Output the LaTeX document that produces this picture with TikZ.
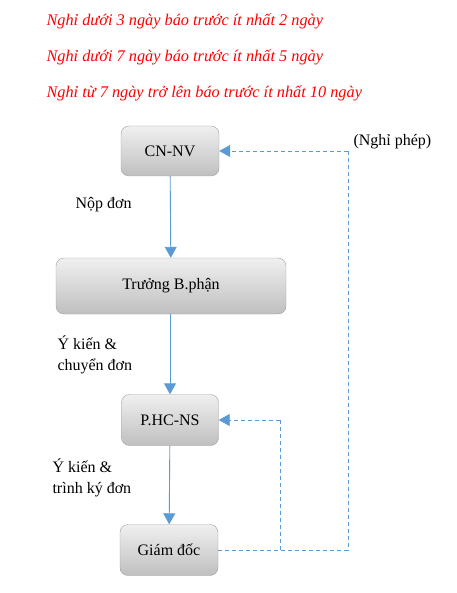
\documentclass[tikz,border=0pt]{standalone}
\usepackage{fontspec}
\setmainfont{Liberation Serif}
\usetikzlibrary{arrows.meta}
\definecolor{lineblue}{HTML}{5B9BD5}
\definecolor{boxedge}{HTML}{A0A0A0}
\tikzset{
  unit/.style = {draw = boxedge, rounded corners = 8pt, top color = gray!12, bottom color = gray!50, font = \fontsize{16}{19}\selectfont, inner sep = 0pt},
  flow/.style = {draw = lineblue, line width = 0.9pt, -{Triangle[length=11pt,width=12pt]}},
  back/.style = {draw = lineblue, line width = 0.9pt, dash pattern = on 4pt off 3pt},
  note/.style = {text = red, font = \fontsize{16.3}{19}\selectfont\itshape, anchor = west},
  say/.style = {font = \fontsize{16}{21}\selectfont, align = left, anchor = west}
}
\begin{document}
\begin{tikzpicture}[x = 1pt, y = -1pt]
\useasboundingbox (0,0) rectangle (456,593);
% ghi chu thoi han
\node[note] (n1) at (43,21){Nghỉ dưới 3 ngày báo trước ít nhất 2 ngày};
\node[note] (n2) at (43,57){Nghỉ dưới 7 ngày báo trước ít nhất 5 ngày};
\node[note] (n3) at (43,93){Nghỉ từ 7 ngày trở lên báo trước ít nhất 10 ngày};
% cac bo phan
\node[unit, minimum width = 98pt, minimum height = 50pt] (cnnv) at (170,151){CN-NV};
\node[unit, minimum width = 230pt, minimum height = 56pt] (truong) at (171,286){Trưởng B.phận};
\node[unit, minimum width = 97pt, minimum height = 51pt] (phc) at (170,420){P.HC-NS};
\node[unit, minimum width = 98pt, minimum height = 51pt] (gd) at (169,550){Giám đốc};
% luong don
\draw[flow] (cnnv) -- (truong);
\draw[flow] (truong.south -| phc) -- (phc);
\draw[flow] (phc) -- (gd);
\node[say] (l1) at (72,205){Nộp đơn};
\node[say] (l2) at (54,355){Ý kiến \&\\chuyển đơn};
\node[say] (l3) at (49,478){Ý kiến \&\\trình ký đơn};
% phan hoi
\coordinate (k1) at (280,550);
\coordinate (k2) at (348,550);
\draw[back] (gd.east) -- (k2) -- (k2 |- cnnv);
\draw[back, -{Triangle[length=11pt,width=12pt]}] (k2 |- cnnv) -- (cnnv.east);
\draw[back] (k1) -- (k1 |- phc);
\draw[back, -{Triangle[length=11pt,width=12pt]}] (k1 |- phc) -- (phc.east);
\node[say] (np) at (350,142){(Nghỉ phép)};
\end{tikzpicture}
\end{document}
